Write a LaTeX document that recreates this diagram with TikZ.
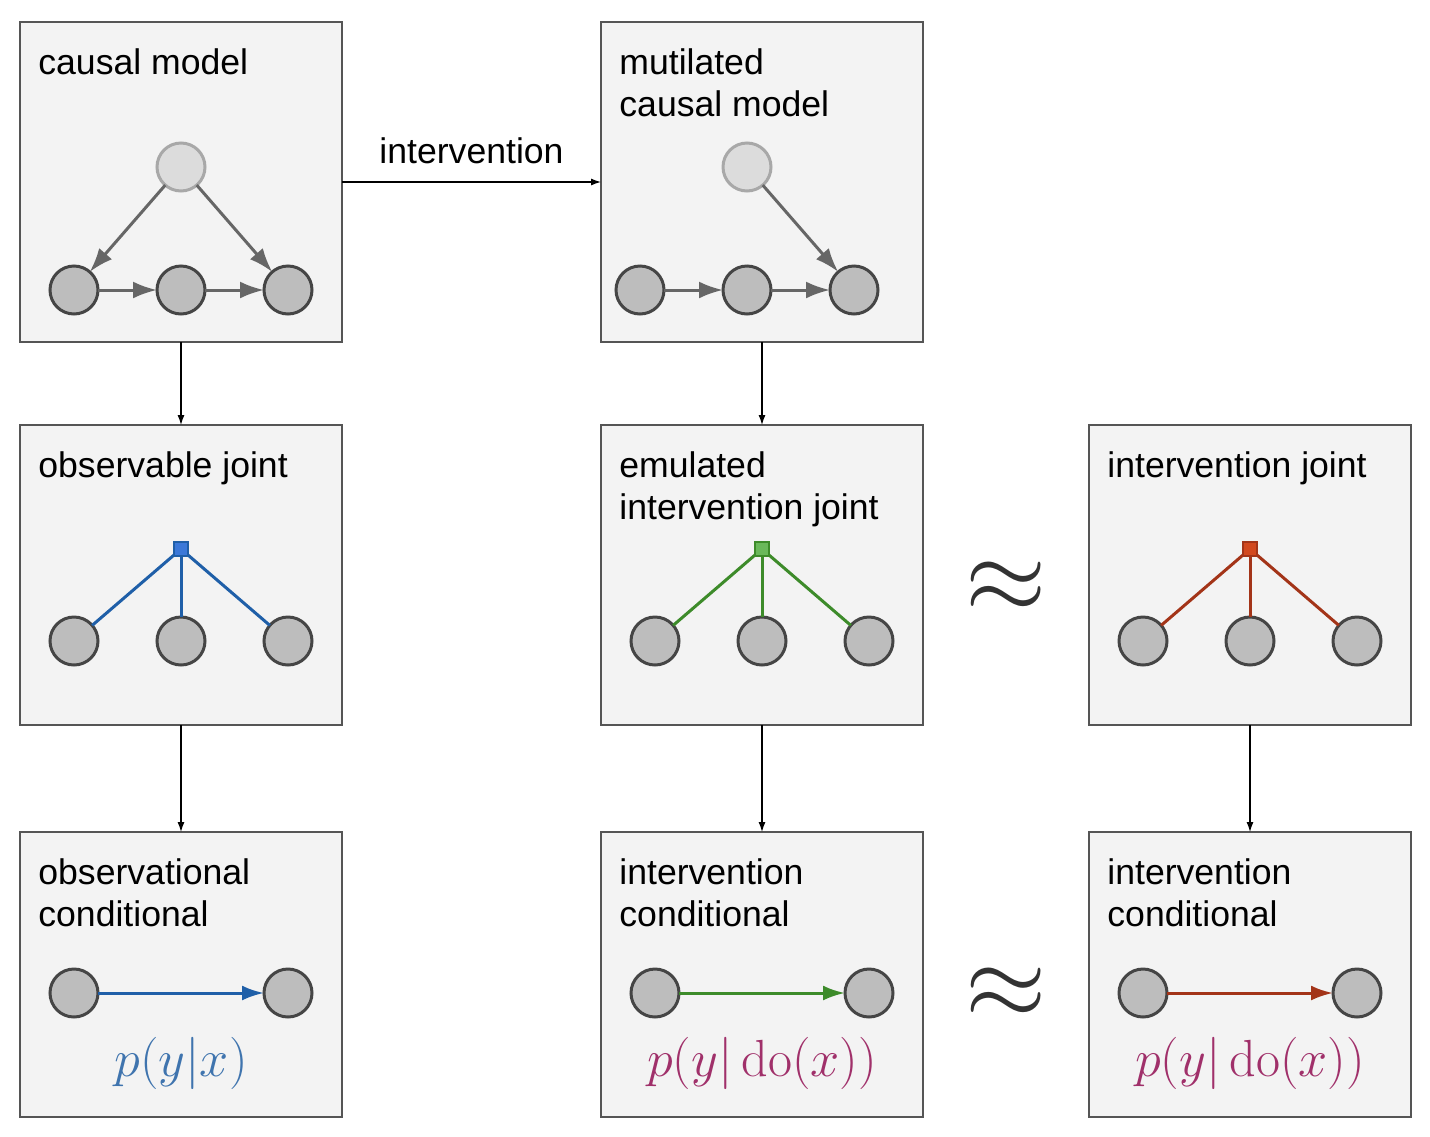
\documentclass[tikz,border=0pt]{standalone}
\usepackage{amsmath}
\usepackage{graphicx}
\usepackage[no-math]{fontspec}
\setmainfont{Liberation Sans}
\usetikzlibrary{positioning}
\usetikzlibrary{arrows.meta}
\usetikzlibrary{calc}
\tikzset{>={Latex[width=3.5pt,length=5pt]}}

\definecolor{boxfill}{HTML}{F3F3F3}
\definecolor{boxline}{HTML}{555555}
\definecolor{varfill}{HTML}{BDBDBD}
\definecolor{varline}{HTML}{454545}
\definecolor{latfill}{HTML}{DCDCDC}
\definecolor{latline}{HTML}{A8A8A8}
\definecolor{edgegray}{HTML}{666666}
\definecolor{obsblue}{HTML}{1F5FA8}
\definecolor{obsbluefill}{HTML}{3B78D8}
\definecolor{emugreen}{HTML}{3D8B2A}
\definecolor{emugreenfill}{HTML}{6AB85A}
\definecolor{intred}{HTML}{A33418}
\definecolor{intredfill}{HTML}{D2481E}
\definecolor{mathblue}{HTML}{3F74AE}
\definecolor{mathplum}{HTML}{A0306A}

\newcommand{\bigapprox}{\scalebox{2.1}{$\approx$}}

\tikzset{
  panel/.style={draw=boxline, line width=1pt, fill=boxfill, minimum width=161pt, inner sep=0pt, outer sep=0pt},
  title/.style={anchor=north west, inner sep=0pt, align=left, font=\fontsize{17.8}{21}\selectfont},
  var/.style={circle, draw=varline, fill=varfill, line width=1.5pt, minimum size=24pt, inner sep=0pt, outer sep=0pt},
  latent/.style={var, draw=latline, fill=latfill},
  factor/.style={rectangle, line width=0.8pt, minimum size=7pt, inner sep=0pt, outer sep=0pt},
  edge/.style={draw=edgegray, line width=1.5pt, -{Latex[width=8.5pt,length=12pt]}},
  flow/.style={draw, line width=0.6pt, ->},
  formula/.style={anchor=base, font=\fontsize{24.88}{24.88}\selectfont, scale=1.05, transform shape},
  approx/.style={text=black!80, font=\fontsize{24.88}{24.88}\selectfont},
}

\begin{document}
\begin{tikzpicture}
\useasboundingbox (0,0) rectangle (715pt,-568pt);

% panels
\node (A) [panel, minimum height=160pt, anchor=north west] at (10pt,-11pt) {};
\node (B) [panel, minimum height=160pt, right=129.5pt of A] {};
\node (C) [panel, minimum height=150pt, below=41.5pt of A] {};
\node (D) [panel, minimum height=150pt, below=41.5pt of B] {};
\node (E) [panel, minimum height=150pt, right=83pt of D] {};
\node (F) [panel, minimum height=142.5pt, below=53.5pt of C] {};
\node (G) [panel, minimum height=142.5pt, below=53.5pt of D] {};
\node (H) [panel, minimum height=142.5pt, below=53.5pt of E] {};

% titles
\node (tA) [title] at ([xshift=9pt,yshift=-13pt]A.north west) {causal model};
\node (tB) [title] at ([xshift=9pt,yshift=-13pt]B.north west) {mutilated\\causal model};
\node (tC) [title] at ([xshift=9pt,yshift=-13pt]C.north west) {observable joint};
\node (tD) [title] at ([xshift=9pt,yshift=-13pt]D.north west) {emulated\\intervention joint};
\node (tE) [title] at ([xshift=9pt,yshift=-13pt]E.north west) {intervention joint};
\node (tF) [title] at ([xshift=9pt,yshift=-13pt]F.north west) {observational\\conditional};
\node (tG) [title] at ([xshift=9pt,yshift=-13pt]G.north west) {intervention\\conditional};
\node (tH) [title] at ([xshift=9pt,yshift=-13pt]H.north west) {intervention\\conditional};

% causal model
\node (a2) [var, above=14pt of A.south] {};
\node (a1) [var, left=29.5pt of a2] {};
\node (a3) [var, right=29.5pt of a2] {};
\node (a0) [latent, above=37.5pt of a2] {};
\path [edge] (a0) -- (a1);
\path [edge] (a0) -- (a3);
\path [edge] (a1) -- (a2);
\path [edge] (a2) -- (a3);

% mutilated causal model
\node (b2) [var, above=14pt of B.south, xshift=-7.5pt] {};
\node (b1) [var, left=29.5pt of b2] {};
\node (b3) [var, right=29.5pt of b2] {};
\node (b0) [latent, above=37.5pt of b2] {};
\path [edge] (b0) -- (b3);
\path [edge] (b1) -- (b2);
\path [edge] (b2) -- (b3);

% observable joint
\node (c2) [var, above=30pt of C.south] {};
\node (c1) [var, left=29.5pt of c2] {};
\node (c3) [var, right=29.5pt of c2] {};
\node (cf) [factor, draw=obsblue, fill=obsbluefill, above=30.5pt of c2] {};
\foreach \v in {c1,c2,c3}
  \path [draw, obsblue, line width=1.5pt] (cf) -- (\v);

% emulated intervention joint
\node (d2) [var, above=30pt of D.south] {};
\node (d1) [var, left=29.5pt of d2] {};
\node (d3) [var, right=29.5pt of d2] {};
\node (df) [factor, draw=emugreen, fill=emugreenfill, above=30.5pt of d2] {};
\foreach \v in {d1,d2,d3}
  \path [draw, emugreen, line width=1.5pt] (df) -- (\v);

% intervention joint
\node (e2) [var, above=30pt of E.south] {};
\node (e1) [var, left=29.5pt of e2] {};
\node (e3) [var, right=29.5pt of e2] {};
\node (ef) [factor, draw=intred, fill=intredfill, above=30.5pt of e2] {};
\foreach \v in {e1,e2,e3}
  \path [draw, intred, line width=1.5pt] (ef) -- (\v);

% conditionals
\node (f1) [var, above=50pt of F.south west, xshift=27pt] {};
\node (f2) [var, right=83pt of f1] {};
\path [draw, obsblue, line width=1.5pt, -{Latex[width=7.5pt,length=11pt]}] (f1) -- (f2);
\node (fm) [formula, text=mathblue] at ([yshift=20.5pt]F.south) {$p(y|x)$};

\node (g1) [var, above=50pt of G.south west, xshift=27pt] {};
\node (g2) [var, right=83pt of g1] {};
\path [draw, emugreen, line width=1.5pt, -{Latex[width=7.5pt,length=11pt]}] (g1) -- (g2);
\node (gm) [formula, text=mathplum] at ([yshift=20.5pt]G.south) {$p(y|\operatorname{do}(x))$};

\node (h1) [var, above=50pt of H.south west, xshift=27pt] {};
\node (h2) [var, right=83pt of h1] {};
\path [draw, intred, line width=1.5pt, -{Latex[width=7.5pt,length=11pt]}] (h1) -- (h2);
\node (hm) [formula, text=mathplum] at ([yshift=20.5pt]H.south) {$p(y|\operatorname{do}(x))$};

% approximately equal
\node (ap1) [approx, yshift=-6pt] at ($(D.east)!0.5!(E.west)$) {\bigapprox};
\node (ap2) [approx] at ($(g2)!0.5!(h1)$) {\bigapprox};

% flow between panels
\path [flow] (A) -- node [above=5.5pt] {\fontsize{17.8}{21}\selectfont intervention} (B);
\path [flow] (A) -- (C);
\path [flow] (B) -- (D);
\path [flow] (C) -- (F);
\path [flow] (D) -- (G);
\path [flow] (E) -- (H);
\end{tikzpicture}
\end{document}
